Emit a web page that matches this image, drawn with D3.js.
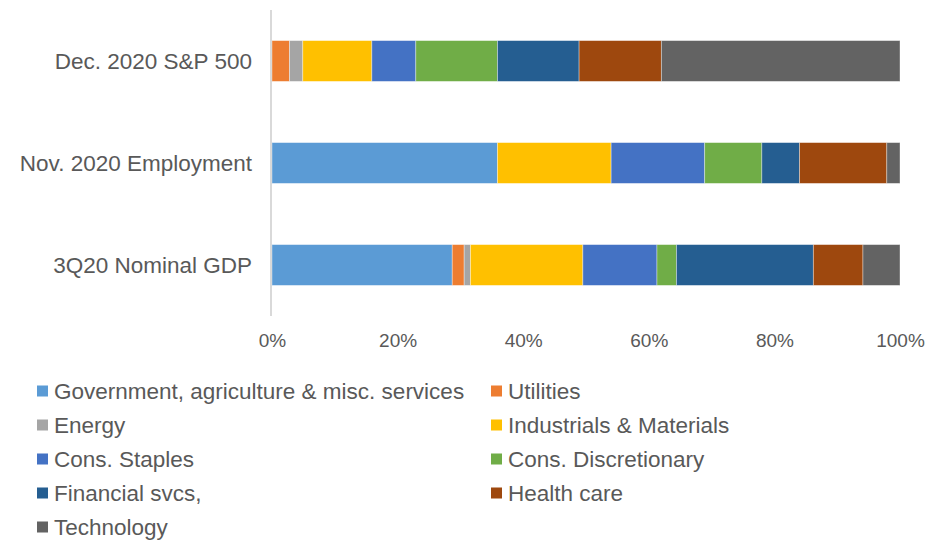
<!DOCTYPE html>
<html>
<head>
<meta charset="utf-8">
<script src="https://cdn.jsdelivr.net/npm/d3@7"></script>
<style>
  body { margin: 0; background: #fff; }
  svg text { font-family: "Liberation Sans", "Noto Sans", sans-serif; fill: #595959; }
</style>
</head>
<body>
<svg id="chart"></svg>
<script>
var width = 934;
var height = 543;

// categories, top to bottom
var categories = ["Dec. 2020 S&P 500", "Nov. 2020 Employment", "3Q20 Nominal GDP"];

// sector names (stack order)
var sectors = [
  "Government, agriculture & misc. services",
  "Utilities",
  "Energy",
  "Industrials & Materials",
  "Cons. Staples",
  "Cons. Discretionary",
  "Financial svcs,",
  "Health care",
  "Technology"
];

// shares in %, one array per category, same order as sectors
var spValues  = [0, 2.8, 2.1, 11.0, 7.0, 13.0, 13.0, 13.1, 38.0];
var empValues = [35.9, 0, 0, 18.1, 14.9, 9.1, 6.0, 13.9, 2.1];
var gdpValues = [28.7, 1.9, 1.0, 17.9, 11.8, 3.1, 21.8, 7.9, 5.9];

var tickValues = [0, 0.2, 0.4, 0.6, 0.8, 1.0];

var colors = ["#5B9BD5", "#ED7D31", "#A5A5A5", "#FFC000", "#4472C4",
              "#70AD47", "#255E91", "#9E480E", "#636363"];

var svg = d3.select("#chart")
  .attr("width", width)
  .attr("height", height);

var allValues = [spValues, empValues, gdpValues];
var rows = categories.map(function(c, i) {
  var row = { category: c };
  var total = d3.sum(allValues[i]);
  sectors.forEach(function(s, j) { row[s] = allValues[i][j] / total; });
  return row;
});

var stack = d3.stack().keys(sectors);
var series = stack(rows);

var x = d3.scaleLinear().domain([0, 1]).range([272, 900]);
var y = d3.scaleBand()
  .domain(categories)
  .range([10, 316])
  .paddingInner(0.6)
  .paddingOuter(0.3);
var color = d3.scaleOrdinal().domain(sectors).range(colors);

// bars
svg.append("g").selectAll("g")
  .data(series)
  .enter()
  .append("g")
  .attr("fill", function(d) { return color(d.key); })
  .selectAll("rect")
  .data(function(d) { return d; })
  .enter()
  .append("rect")
  .attr("x", function(d) { return x(d[0]); })
  .attr("y", function(d) { return y(d.data.category); })
  .attr("width", function(d) { return Math.max(0, x(d[1]) - x(d[0])); })
  .attr("height", y.bandwidth())
  .attr("stroke", "rgba(255,255,255,0.45)")
  .attr("stroke-width", 0.8);

// vertical category axis line
svg.append("line")
  .attr("x1", x(0) - 1).attr("x2", x(0) - 1)
  .attr("y1", 10).attr("y2", 316)
  .attr("stroke", "#d9d9d9")
  .attr("stroke-width", 2);

// category labels
svg.append("g").selectAll("text")
  .data(categories)
  .enter()
  .append("text")
  .attr("x", 252)
  .attr("y", function(d) { return y(d) + y.bandwidth() / 2; })
  .attr("dy", "0.35em")
  .attr("text-anchor", "end")
  .style("font-size", "22.5px")
  .text(function(d) { return d; });

// percent axis
var xAxis = d3.axisBottom(x)
  .tickValues(tickValues)
  .tickFormat(d3.format(".0%"))
  .tickSize(0)
  .tickPadding(0);

var ax = svg.append("g")
  .attr("transform", "translate(0,332)")
  .call(xAxis);
ax.select(".domain").remove();
ax.selectAll("text")
  .attr("y", 0)
  .attr("dy", "0.8em")
  .style("font-size", "19px")
  .style("fill", "#595959");

// legend, two columns row-major
var legend = svg.append("g").selectAll("g")
  .data(sectors)
  .enter()
  .append("g")
  .attr("transform", function(d, i) {
    var col = i % 2, row = Math.floor(i / 2);
    return "translate(" + (col === 0 ? 37 : 491) + "," + (391 + row * 34) + ")";
  });

legend.append("rect")
  .attr("x", 0)
  .attr("y", -5.5)
  .attr("width", 11)
  .attr("height", 11)
  .attr("fill", function(d) { return color(d); });

legend.append("text")
  .attr("x", 17)
  .attr("y", 0)
  .attr("dy", "0.35em")
  .style("font-size", "22.5px")
  .text(function(d) { return d; });
</script>
</body>
</html>
